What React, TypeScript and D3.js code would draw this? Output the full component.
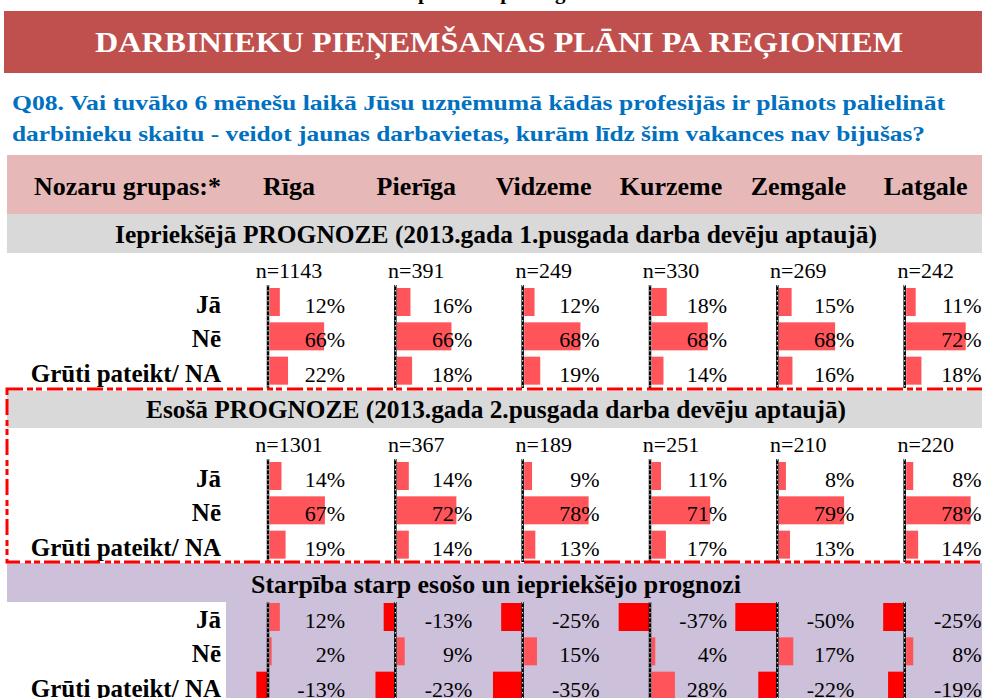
import React from "react";
import * as d3 from "d3";

const regions = ["Rīga", "Pierīga", "Vidzeme", "Kurzeme", "Zemgale", "Latgale"];
const answers = ["Jā", "Nē", "Grūti pateikt/ NA"];

// Iepriekšējā prognoze
const prevN = [1143, 391, 249, 330, 269, 242];
const prevJa = [12, 16, 12, 18, 15, 11];
const prevNe = [66, 66, 68, 68, 68, 72];
const prevGrut = [22, 18, 19, 14, 16, 18];

// Esošā prognoze
const curN = [1301, 367, 189, 251, 210, 220];
const curJa = [14, 14, 9, 11, 8, 8];
const curNe = [67, 72, 78, 71, 79, 78];
const curGrut = [19, 14, 13, 17, 13, 14];

// Starpība
const diffJa = [12, -13, -25, -37, -50, -25];
const diffNe = [2, 9, 15, 4, 17, 8];
const diffGrut = [-13, -23, -35, 28, -22, -19];

const W = 982;
const H = 698;
const font = "'Liberation Serif', 'Times New Roman', serif";

const sections = [
  {
    title: "Iepriekšējā PROGNOZE (2013.gada 1.pusgada darba devēju aptaujā)",
    fill: "#D9D9D9", bandTop: 214, bandBottom: 253, titleY: 243, titleLen: 762,
    nY: 278, rowsTop: 285, n: prevN, values: [prevJa, prevNe, prevGrut], rowBg: null,
  },
  {
    title: "Esošā PROGNOZE (2013.gada 2.pusgada darba devēju aptaujā)",
    fill: "#D9D9D9", bandTop: 391, bandBottom: 428, titleY: 418, titleLen: 700,
    nY: 452, rowsTop: 459, n: curN, values: [curJa, curNe, curGrut], rowBg: null,
  },
  {
    title: "Starpība starp esošo un iepriekšējo prognozi",
    fill: "#CCC0DA", bandTop: 563, bandBottom: 602, titleY: 593, titleLen: 490,
    nY: null, rowsTop: 600, n: null, values: [diffJa, diffNe, diffGrut], rowBg: "#CCC0DA",
  },
];

const col = d3.scaleBand<string>().domain(regions).range([226, 990]);
const bar = d3.scaleLinear().domain([-100, 100]).range([-82, 82]);

function Section({ s }: { s: any }) {
  const rows = d3.scaleBand<string>().domain(answers).range([s.rowsTop, s.rowsTop + 103]);
  const lineTop = Math.max(s.rowsTop, s.bandBottom);
  return (
    <g>
      <rect x={7} y={s.bandTop} width={W} height={s.bandBottom - s.bandTop} fill={s.fill} />
      {s.rowBg && (
        <rect x={226} y={s.bandBottom} width={W} height={H - s.bandBottom} fill={s.rowBg} />
      )}
      <text x={496} y={s.titleY} textAnchor="middle" fontWeight="bold" fontSize={25}
        textLength={s.titleLen} lengthAdjust="spacingAndGlyphs">{s.title}</text>
      {s.n && regions.map((r, i) => (
        <text key={r} x={(col(r) as number) + 63} y={s.nY} textAnchor="middle" fontSize={22}>
          n={s.n[i]}
        </text>
      ))}
      {answers.map((a, j) => {
        const top = rows(a) as number;
        return (
          <g key={a}>
            <text x={221} y={top + 28} textAnchor="end" fontWeight="bold" fontSize={25}>{a}</text>
            {regions.map((r, i) => {
              const v = s.values[j][i];
              const axis = (col(r) as number) + 42;
              const len = bar(v);
              return (
                <g key={r}>
                  {v >= 0 ? (
                    <rect x={axis + 1.5} y={top + 3} width={len + 0.5} height={28} fill="#FF555A" />
                  ) : (
                    <rect x={axis - 1 + len} y={top + 3} width={-len} height={28} fill="#FF0000" />
                  )}
                  <text x={(col(r) as number) + 119} y={top + 28} textAnchor="end" fontSize={22}>
                    {v}%
                  </text>
                </g>
              );
            })}
          </g>
        );
      })}
      {regions.map((r) => {
        const axis = (col(r) as number) + 42;
        return (
          <g key={r}>
            <line x1={axis} x2={axis} y1={lineTop} y2={s.rowsTop + 103} stroke="#000" strokeWidth={2.5} />
            <line x1={axis} x2={axis} y1={lineTop} y2={s.rowsTop + 103} stroke="#fff"
              strokeWidth={1} strokeDasharray="1.5 3.5" />
          </g>
        );
      })}
    </g>
  );
}

export default function App() {
  return (
    <div style={{ position: "absolute", left: 0, top: 0 }}>
      <svg width={W} height={H} style={{ display: "block", background: "#fff" }} fontFamily={font}>
        <text x={418} y={-1} fontWeight="bold" fontSize={21}>pārskats par reģioniem</text>
        <rect x={4} y={11} width={W} height={62} fill="#C0504D" />
        <text x={499} y={52} textAnchor="middle" fill="#fff" fontWeight="bold" fontSize={30}
          textLength={808} lengthAdjust="spacingAndGlyphs">
          DARBINIEKU PIEŅEMŠANAS PLĀNI PA REĢIONIEM
        </text>
        <text x={12} y={110} fill="#0070C0" fontWeight="bold" fontSize={22}
          textLength={933} lengthAdjust="spacingAndGlyphs">
          Q08. Vai tuvāko 6 mēnešu laikā Jūsu uzņēmumā kādās profesijās ir plānots palielināt
        </text>
        <text x={12} y={141} fill="#0070C0" fontWeight="bold" fontSize={22}
          textLength={913} lengthAdjust="spacingAndGlyphs">
          darbinieku skaitu - veidot jaunas darbavietas, kurām līdz šim vakances nav bijušas?
        </text>
        <rect x={7} y={155} width={W} height={59} fill="#E6B8B7" />
        <text x={221} y={195} textAnchor="end" fontWeight="bold" fontSize={26}>Nozaru grupas:*</text>
        {regions.map((r) => (
          <text key={r} x={(col(r) as number) + 63} y={195} textAnchor="middle" fontWeight="bold" fontSize={26}>
            {r}
          </text>
        ))}
        {sections.map((s) => (
          <Section key={s.title} s={s} />
        ))}
        <rect x={7} y={389} width={1000} height={173} fill="none" stroke="#FF0000" strokeWidth={3}
          strokeDasharray="16 4 6 3 6 5" />
      </svg>
    </div>
  );
}
